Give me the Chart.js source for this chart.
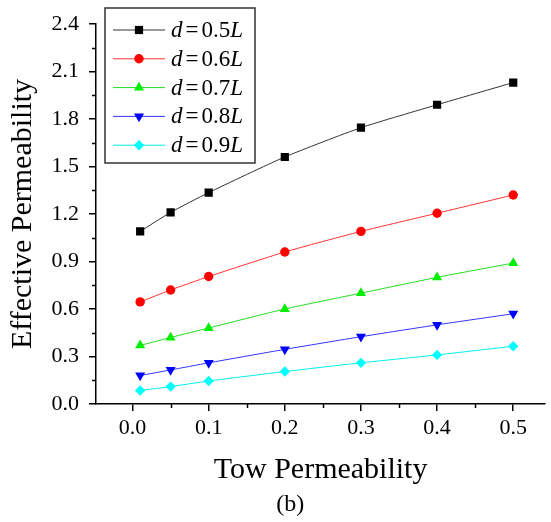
<!DOCTYPE html>
<html>
<head>
<meta charset="utf-8">
<script src="https://cdn.jsdelivr.net/npm/chart.js@4/dist/chart.umd.min.js"></script>
<style>
  html, body { margin: 0; padding: 0; background: #fff; }
  #wrap { width: 551px; height: 522px; }
</style>
</head>
<body>
<div id="wrap"><canvas id="chart" width="551" height="522"></canvas></div>
<script>
// Tow permeability (x) and effective permeability for each spacing d
const towPerm = [0.01, 0.05, 0.1, 0.2, 0.3, 0.4, 0.5];
const dValues = ['0.5', '0.6', '0.7', '0.8', '0.9'];
const eff05 = [1.09, 1.21, 1.335, 1.56, 1.745, 1.89, 2.03];
const eff06 = [0.645, 0.72, 0.805, 0.96, 1.09, 1.205, 1.32];
const eff07 = [0.37, 0.42, 0.48, 0.60, 0.70, 0.80, 0.89];
const eff08 = [0.18, 0.215, 0.26, 0.345, 0.425, 0.50, 0.57];
const eff09 = [0.085, 0.11, 0.145, 0.205, 0.26, 0.31, 0.365];

const xTickLabels = ['0.0', '0.1', '0.2', '0.3', '0.4', '0.5'];
const yTickLabels = ['0.0', '0.3', '0.6', '0.9', '1.2', '1.5', '1.8', '2.1', '2.4'];

const SERIF = '"Liberation Serif", "Times New Roman", serif';

const seriesStyle = [
    { color: '#000000', line: '#333333', pointStyle: 'rect', radius: 5.8, rotation: 0 },
    { color: '#ff0000', line: '#ff3333', pointStyle: 'circle', radius: 4.7, rotation: 0 },
    { color: '#00ee00', line: '#22dd22', pointStyle: 'triangle', radius: 5.8, rotation: 0 },
    { color: '#0000ff', line: '#3333ff', pointStyle: 'triangle', radius: 5.8, rotation: 180 },
    { color: '#00ffff', line: '#00eeee', pointStyle: 'rectRot', radius: 5.2, rotation: 0 }
];
const seriesData = [eff05, eff06, eff07, eff08, eff09];

function toPoints(arr) {
    return arr.map((v, i) => ({ x: towPerm[i], y: v }));
}

function isStep(v, step) {
    const r = v / step;
    return Math.abs(r - Math.round(r)) < 1e-6;
}

// minor ticks (shorter) drawn on both axes
const minorTicks = {
    id: 'minorTicks',
    afterDraw(chart) {
        const ctx = chart.ctx;
        const xs = chart.scales.x, ys = chart.scales.y;
        ctx.save();
        ctx.strokeStyle = '#000';
        ctx.lineWidth = 1.5;
        ctx.beginPath();
        xs.ticks.forEach(t => {
            if (isStep(t.value, 0.05) && !isStep(t.value, 0.1) && t.value > 0 && t.value < 0.54) {
                const px = Math.round(xs.getPixelForValue(t.value)) + 0.5;
                ctx.moveTo(px, xs.top);
                ctx.lineTo(px, xs.top + 4);
            }
        });
        ys.ticks.forEach(t => {
            if (!isStep(t.value, 0.3)) {
                const py = Math.round(ys.getPixelForValue(t.value)) + 0.5;
                ctx.moveTo(ys.right, py);
                ctx.lineTo(ys.right - 4, py);
            }
        });
        ctx.stroke();
        ctx.restore();
    }
};

// framed legend: line - marker - line, then "d = 0.xL"
const boxLegend = {
    id: 'boxLegend',
    afterDraw(chart) {
        const ctx = chart.ctx;
        const bx = 105, by = 8, bw = 150, bh = 155;
        ctx.save();
        ctx.fillStyle = '#fff';
        ctx.fillRect(bx, by, bw, bh);
        ctx.strokeStyle = '#333';
        ctx.lineWidth = 1.5;
        ctx.strokeRect(bx, by, bw, bh);
        chart.data.datasets.forEach((ds, i) => {
            const y = by + 22 + i * 28.8;
            ctx.strokeStyle = ds.borderColor;
            ctx.lineWidth = 1;
            ctx.beginPath();
            ctx.moveTo(113, y);
            ctx.lineTo(165, y);
            ctx.stroke();
            ctx.fillStyle = ds.pointBackgroundColor;
            ctx.strokeStyle = ds.pointBackgroundColor;
            Chart.helpers.drawPoint(ctx, {
                pointStyle: ds.pointStyle,
                radius: ds.pointRadius,
                rotation: ds.pointRotation,
                borderWidth: 0
            }, 139, y);
            // label text with italic d and L, tight spacing round "="
            ctx.fillStyle = '#000';
            ctx.textBaseline = 'middle';
            ctx.textAlign = 'left';
            let tx = 171;
            const parts = [
                ['italic', 'd', 3],
                ['normal', '=', 3],
                ['normal', dValues[i], 0],
                ['italic', 'L', 0]
            ];
            parts.forEach(([st, txt, gap]) => {
                ctx.font = st + ' 23px ' + SERIF;
                ctx.fillText(txt, tx, y + 1);
                tx += ctx.measureText(txt).width + gap;
            });
        });
        ctx.restore();
    }
};

const datasets = seriesData.map((arr, i) => ({
    label: 'd = ' + dValues[i] + 'L',
    data: toPoints(arr),
    borderColor: seriesStyle[i].line,
    borderWidth: 1,
    backgroundColor: seriesStyle[i].color,
    pointBackgroundColor: seriesStyle[i].color,
    pointBorderColor: seriesStyle[i].color,
    pointBorderWidth: 0,
    pointStyle: seriesStyle[i].pointStyle,
    pointRadius: seriesStyle[i].radius,
    pointRotation: seriesStyle[i].rotation,
    tension: 0.2,
    fill: false
}));

new Chart(document.getElementById('chart'), {
    type: 'line',
    data: { datasets: datasets },
    options: {
        responsive: false,
        animation: false,
        layout: { padding: { left: 5.5, top: 24, right: 0, bottom: 0 } },
        plugins: {
            legend: { display: false },
            tooltip: { enabled: false },
            subtitle: {
                display: true,
                position: 'bottom',
                text: '    (b)',
                color: '#000',
                font: { family: SERIF, size: 24, weight: 'normal' },
                padding: { top: 0, bottom: 3 }
            }
        },
        scales: {
            x: {
                type: 'linear',
                min: -0.048,
                max: 0.542,
                border: { display: true, color: '#000', width: 1.5 },
                grid: {
                    drawOnChartArea: false,
                    drawTicks: true,
                    tickLength: 7,
                    lineWidth: 1.5,
                    color: c => (c.tick && isStep(c.tick.value, 0.1) && c.tick.value > -0.01 && c.tick.value < 0.51) ? '#000' : 'rgba(0,0,0,0)'
                },
                ticks: {
                    stepSize: 0.05,
                    includeBounds: false,
                    autoSkip: false,
                    maxRotation: 0,
                    padding: 4,
                    color: '#000',
                    font: { family: SERIF, size: 22 },
                    callback: v => {
                        if (!isStep(v, 0.1) || v < -0.01 || v > 0.51) return '';
                        return xTickLabels[Math.round(v * 10)];
                    }
                },
                title: {
                    display: true,
                    text: 'Tow Permeability',
                    color: '#000',
                    font: { family: SERIF, size: 30 },
                    padding: { top: 6.6, bottom: 2.2 }
                }
            },
            y: {
                type: 'linear',
                min: 0,
                max: 2.4,
                border: { display: true, color: '#000', width: 1.5 },
                grid: {
                    drawOnChartArea: false,
                    drawTicks: true,
                    tickLength: 7,
                    lineWidth: 1.5,
                    color: c => (c.tick && isStep(c.tick.value, 0.3)) ? '#000' : 'rgba(0,0,0,0)'
                },
                ticks: {
                    stepSize: 0.15,
                    autoSkip: false,
                    padding: 10,
                    color: '#000',
                    font: { family: SERIF, size: 22 },
                    callback: v => isStep(v, 0.3) ? yTickLabels[Math.round(v / 0.3)] : ''
                },
                title: {
                    display: true,
                    text: 'Effective Permeability',
                    color: '#000',
                    font: { family: SERIF, size: 30 },
                    padding: { top: 0, bottom: 0 }
                }
            }
        }
    },
    plugins: [minorTicks, boxLegend]
});
</script>
</body>
</html>
